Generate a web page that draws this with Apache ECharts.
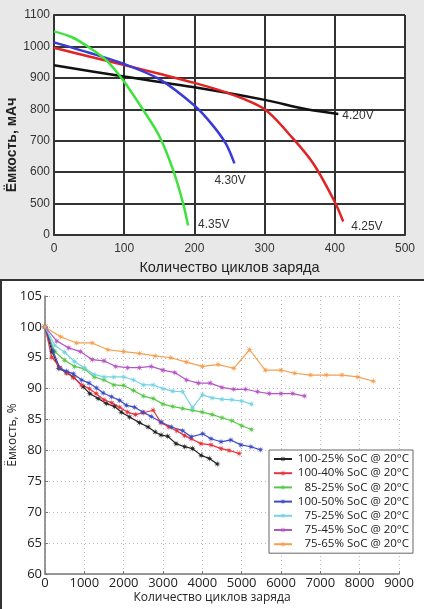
<!DOCTYPE html>
<html>
<head>
<meta charset="utf-8">
<script src="https://cdn.jsdelivr.net/npm/echarts@6/dist/echarts.min.js"></script>
<style>html,body{margin:0;padding:0;background:#fff}#c{width:424px;height:609px}</style>
</head>
<body>
<div id="c"></div>
<script>
// ---------- Top chart: capacity (mAh) vs cycles, by charge voltage ----------
const topXTicks = [0, 100, 200, 300, 400, 500];
const topYTickLabels = ['0', '500', '600', '700', '800', '900', '1000', '1100']; // axis break: "0" sits where 400 would be
const v420 = [[0,940],[100,904],[200,870],[300,830],[360,800],[405,785]];
const v425 = [[0,996],[50,968],[100,941],[150,913],[200,884],[250,850],[300,800],[340,708],[370,625],[400,505],[412,443]];
const v430 = [[0,1013],[50,980],[100,944],[150,896],[200,812],[225,752],[245,690],[257,628]];
const v435 = [[0,1048],[25,1030],[50,997],[75,955],[100,888],[125,805],[150,715],[170,605],[184,500],[191,430]];

// ---------- Bottom chart: capacity (%) vs cycles, by SoC window ----------
const names = ['100-25% SoC @ 20°C','100-40% SoC @ 20°C','85-25% SoC @ 20°C','100-50% SoC @ 20°C','75-25% SoC @ 20°C','75-45% SoC @ 20°C','75-65% SoC @ 20°C'];
const cyc_100_25 = [0,180,350,550,720,970,1140,1350,1560,1770,1940,2150,2400,2620,2800,2950,3120,3330,3550,3750,3970,4180,4380];
const cap_100_25 = [100,96,93.3,92.6,91.9,90.3,89.2,88.4,87.6,87.1,86.2,85.4,84.5,83.8,83.0,82.5,82.3,81.1,80.6,80.3,79.2,78.7,77.8];
const cyc_100_40 = [0,170,380,560,730,930,1130,1300,1500,1700,1900,2100,2300,2500,2750,2950,3150,3350,3550,3715,3965,4220,4475,4680,4935];
const cap_100_40 = [100,95.1,93.4,92.5,91.8,90.6,90.0,89.2,88.2,87.7,87.0,86.2,85.8,86.1,86.5,84.5,83.8,83.2,82.4,81.9,81.1,80.9,80.3,80.0,79.5];
const cyc_85_25 = [0,250,500,750,1000,1250,1500,1750,2000,2250,2500,2750,3000,3250,3500,3750,4000,4250,4500,4750,5000,5250];
const cap_85_25 = [100,96.0,94.6,93.6,93.2,91.9,91.4,90.6,90.5,89.7,88.8,88.4,87.5,87.1,86.8,86.5,86.2,85.8,85.3,84.8,84.0,83.4];
const cyc_100_50 = [0,210,380,550,720,930,1120,1310,1480,1690,1900,2070,2280,2490,2700,2950,3210,3500,3715,4010,4220,4475,4725,4980,5235,5480];
const cap_100_50 = [100,96.0,93.3,92.8,92.4,91.4,90.9,90.1,89.3,88.7,88.1,87.3,87.0,86.2,85.5,84.6,83.8,83.2,82.2,82.7,81.9,81.4,81.7,80.9,80.6,80.1];
const cyc_75_25 = [0,250,500,750,1000,1250,1500,1750,2000,2250,2500,2750,3000,3250,3500,3750,4000,4250,4500,4750,5000,5250];
const cap_75_25 = [100,97.0,95.9,94.4,93.4,92.3,91.9,91.9,91.9,91.4,90.6,90.6,90.0,89.6,89.5,86.9,89.0,88.5,88.3,88.2,88.0,87.5];
const cyc_75_45 = [0,300,600,900,1200,1500,1800,2100,2400,2700,3000,3300,3600,3900,4200,4500,4800,5100,5400,5700,6000,6300,6600];
const cap_75_45 = [100,97.7,96.6,96.0,94.7,94.5,93.6,93.4,93.4,93.6,93.0,92.6,91.4,90.9,90.9,90.2,89.9,89.9,89.5,89.2,89.2,89.2,88.8];
const cyc_75_65 = [0,400,800,1200,1600,2000,2400,2800,3200,3600,4000,4400,4800,5200,5600,6000,6350,6750,7150,7550,7950,8350];
const cap_75_65 = [100,98.4,97.4,97.4,96.3,96.0,95.7,95.3,95.0,94.3,93.6,93.9,93.3,96.3,93.0,93.0,92.5,92.2,92.2,92.2,91.9,91.2];

const colors = ['#222222','#e8323c','#58c848','#3c4cc8','#74d4e4','#b456c4','#f4a050'];
const zip = (a, b) => a.map((x, i) => [x, b[i]]);
const bottomData = [
  zip(cyc_100_25, cap_100_25), zip(cyc_100_40, cap_100_40), zip(cyc_85_25, cap_85_25),
  zip(cyc_100_50, cap_100_50), zip(cyc_75_25, cap_75_25), zip(cyc_75_45, cap_75_45), zip(cyc_75_65, cap_75_65)
];
const star = 'path://M5,0 L1.48,0.61 L3.54,3.54 L0.61,1.48 L0,5 L-0.61,1.48 L-3.54,3.54 L-1.48,0.61 L-5,0 L-1.48,-0.61 L-3.54,-3.54 L-0.61,-1.48 L0,-5 L0.61,-1.48 L3.54,-3.54 L1.48,-0.61 Z';

const topFont = 'Liberation Sans';
const botFont = 'Open Sans';

function topLine(data, color, label, offset) {
  return {
    type: 'line', xAxisIndex: 0, yAxisIndex: 0, data: data, smooth: 0.3,
    showSymbol: false, symbol: 'none', silent: true,
    lineStyle: { color: color, width: 2.5 },
    endLabel: { show: true, formatter: label, color: '#333', fontSize: 12, fontFamily: topFont, offset: offset }
  };
}

const series = [
  topLine(v420, '#111111', '4.20V', [-4, 2]),
  topLine(v425, '#e02424', '4.25V', [0, 5]),
  topLine(v430, '#3a3ad6', '4.30V', [-28, 17]),
  topLine(v435, '#3ee23e', '4.35V', [2, -1])
];
bottomData.forEach((d, i) => {
  series.push({
    name: names[i], type: 'line', xAxisIndex: 1, yAxisIndex: 1, data: d,
    symbol: star, symbolSize: 7, color: colors[i],
    lineStyle: { color: colors[i], width: 1.2 },
    itemStyle: { color: colors[i] }
  });
});

const chart = echarts.init(document.getElementById('c'), null, { renderer: 'canvas' });
chart.setOption({
  animation: false,
  backgroundColor: '#ffffff',
  graphic: [
    { type: 'rect', z: -10, shape: { x: 0, y: 0, width: 424, height: 279 }, style: { fill: '#e8e8e8' } },
    { type: 'line', z: 100, shape: { x1: 0, y1: 280, x2: 424, y2: 280 }, style: { stroke: '#333', lineWidth: 2 } },
    { type: 'line', z: 100, shape: { x1: 1, y1: 280, x2: 1, y2: 609 }, style: { stroke: '#333', lineWidth: 2 } }
  ],
  grid: [
    { left: 54, top: 15, width: 351, height: 220, show: true, backgroundColor: '#ffffff', borderWidth: 0, containLabel: false, outerBoundsMode: 'none' },
    { left: 45, top: 296, width: 354, height: 278, containLabel: false, outerBoundsMode: 'none' }
  ],
  legend: {
    data: names, orient: 'vertical', left: 269, top: 450,
    itemWidth: 18, itemHeight: 8, itemGap: 2.2, itemTextGap: 5,
    padding: [3, 4, 3, 4], backgroundColor: '#fff', borderColor: '#666', borderWidth: 1,
    formatter: n => '{a|' + n + '}',
    textStyle: { rich: { a: { width: 112, align: 'right', fontSize: 11.5, lineHeight: 13, fontFamily: botFont, color: '#222' } } }
  },
  xAxis: [
    {
      gridIndex: 0, type: 'value', min: 0, max: 500, interval: 100,
      name: 'Количество циклов заряда', nameLocation: 'middle', nameGap: 25, nameMoveOverlap: false,
      nameTextStyle: { fontSize: 14.5, color: '#222', fontFamily: topFont },
      axisLine: { show: true, lineStyle: { color: '#333', width: 2 } },
      axisTick: { show: false },
      axisLabel: { color: '#333', fontSize: 12, fontFamily: topFont, margin: 8,
        formatter: v => topXTicks.indexOf(v) >= 0 ? String(v) : '' },
      splitLine: { show: true, lineStyle: { color: '#333', width: 2 } }
    },
    {
      gridIndex: 1, type: 'value', min: 0, max: 9000, interval: 1000,
      name: 'Количество циклов заряда', nameLocation: 'middle', nameGap: 18, nameMoveOverlap: false,
      nameTextStyle: { fontSize: 12, color: '#222', fontFamily: botFont, padding: [0, 20, 0, 0] },
      axisLine: { show: true, lineStyle: { color: '#777', width: 1.5 } },
      axisTick: { show: true, inside: true, length: 3, lineStyle: { color: '#777' } },
      axisLabel: { color: '#222', fontSize: 13, fontFamily: botFont, margin: 3, formatter: v => String(v) },
      splitLine: { show: true, lineStyle: { color: '#bbb', width: 1, type: [1, 3] } }
    }
  ],
  yAxis: [
    {
      gridIndex: 0, type: 'value', min: 400, max: 1100, interval: 100,
      name: 'Ёмкость, мАч', nameLocation: 'middle', nameGap: 35, nameMoveOverlap: false,
      nameTextStyle: { fontSize: 14, color: '#222', fontWeight: 'bold', fontFamily: topFont, padding: [0, 40, 0, 0] },
      axisLine: { show: true, lineStyle: { color: '#333', width: 2 } },
      axisTick: { show: false },
      axisLabel: { color: '#333', fontSize: 12, fontFamily: topFont, margin: 4,
        formatter: v => topYTickLabels[Math.round((v - 400) / 100)] },
      splitLine: { show: true, lineStyle: { color: '#333', width: 2 } }
    },
    {
      gridIndex: 1, type: 'value', min: 60, max: 105, interval: 5,
      name: 'Ёмкость, %', nameLocation: 'middle', nameGap: 26, nameMoveOverlap: false,
      nameTextStyle: { fontSize: 12, color: '#222', fontFamily: botFont },
      axisLine: { show: true, lineStyle: { color: '#777', width: 1.5 } },
      axisTick: { show: true, inside: true, length: 3, lineStyle: { color: '#777' } },
      axisLabel: { color: '#222', fontSize: 13, fontFamily: botFont, margin: 3, formatter: v => String(v) },
      splitLine: { show: true, lineStyle: { color: '#bbb', width: 1, type: [1, 3] } }
    }
  ],
  series: series
});
</script>
</body>
</html>
